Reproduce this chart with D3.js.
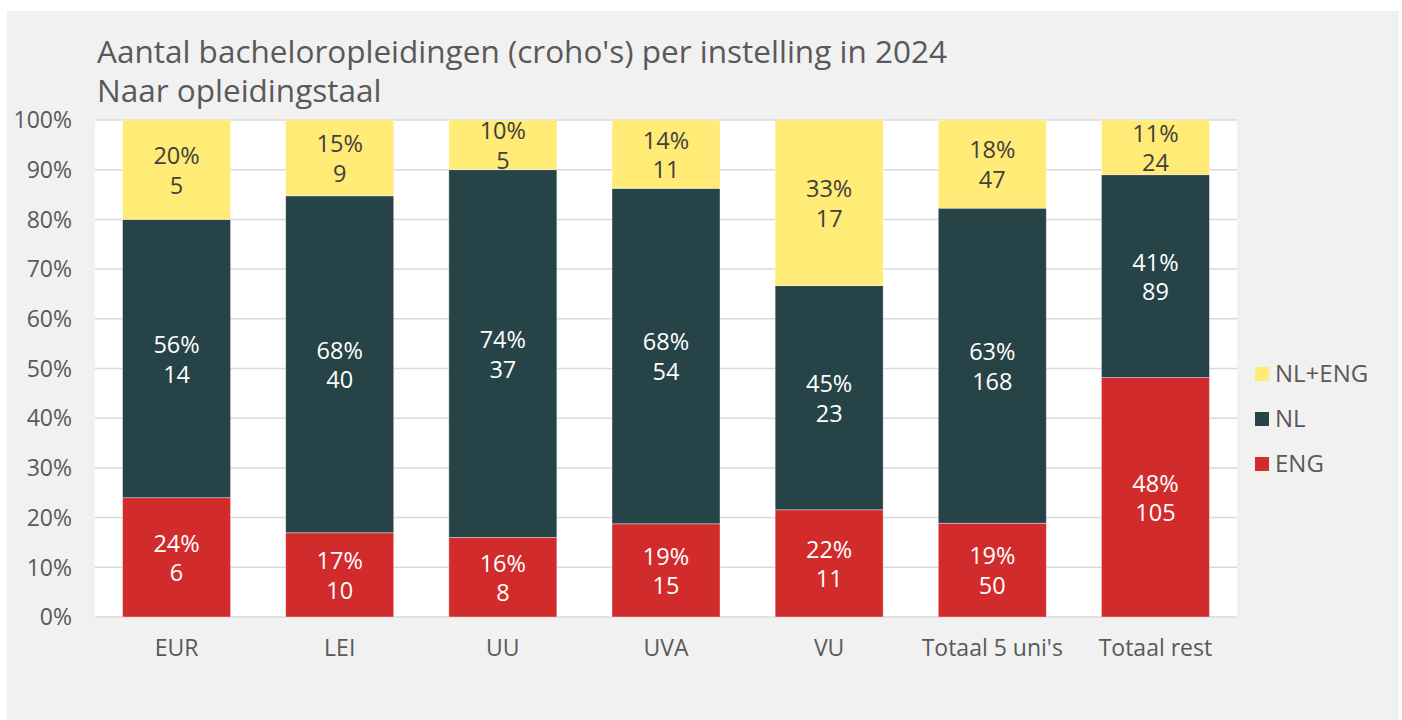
<!DOCTYPE html>
<html>
<head>
<meta charset="utf-8">
<script src="https://cdn.jsdelivr.net/npm/d3@7"></script>
<style>
  body { margin: 0; background: #fff; }
  svg { display: block; font-family: "Open Sans", Lato, sans-serif; }
</style>
</head>
<body>
<svg id="chart" width="1402" height="720"></svg>
<script>
// data
var categories = ["EUR", "LEI", "UU", "UVA", "VU", "Totaal 5 uni's", "Totaal rest"];
var eng   = [6, 10, 8, 15, 11, 50, 105];
var nl    = [14, 40, 37, 54, 23, 168, 89];
var nlEng = [5, 9, 5, 11, 17, 47, 24];
var yTicks = [0, 0.1, 0.2, 0.3, 0.4, 0.5, 0.6, 0.7, 0.8, 0.9, 1];

var series = [
  {key: "ENG", vals: eng, color: "#d22b2b", text: "#ffffff"},
  {key: "NL", vals: nl, color: "#264348", text: "#ffffff"},
  {key: "NL+ENG", vals: nlEng, color: "#ffeb75", text: "#404040"}
];

var svg = d3.select("#chart");

// gray panel
svg.append("rect").attr("x", 7).attr("y", 11).attr("width", 1392).attr("height", 709).attr("fill", "#f1f1f1");

var plotL = 95, plotR = 1237, plotT = 120, plotB = 617;
svg.append("rect").attr("x", plotL).attr("y", plotT).attr("width", plotR - plotL).attr("height", plotB - plotT).attr("fill", "#fff");

var x = d3.scaleBand().domain(categories).range([plotL, plotR]).paddingInner(0.338).paddingOuter(0.169);
var y = d3.scaleLinear().domain([0, 1]).range([plotB, plotT]);

// gridlines
svg.append("g").selectAll("line").data(yTicks).enter().append("line")
  .attr("x1", plotL).attr("x2", plotR)
  .attr("y1", d => y(d)).attr("y2", d => y(d))
  .attr("stroke", "#d9d9d9").attr("stroke-width", 1.5);

// y axis labels
svg.append("g").selectAll("text").data(yTicks).enter().append("text")
  .attr("x", 72).attr("y", d => y(d)).attr("dy", "0.36em")
  .attr("text-anchor", "end").attr("fill", "#595959").attr("font-size", 23)
  .text(d => Math.round(d * 100) + "%");

// stacked shares
var rows = categories.map(function(c, i) {
  var total = eng[i] + nl[i] + nlEng[i];
  var acc = 0;
  return series.map(function(s) {
    var v = s.vals[i];
    var seg = {cat: c, s: s, v: v, p: v / total, y0: acc, y1: acc + v / total};
    acc += v / total;
    return seg;
  });
});
var segs = rows.flat();

svg.append("g").selectAll("rect").data(segs).enter().append("rect")
  .attr("x", d => x(d.cat)).attr("width", x.bandwidth())
  .attr("y", d => y(d.y1)).attr("height", d => y(d.y0) - y(d.y1))
  .attr("fill", d => d.s.color)
  .attr("stroke", "#ffffff").attr("stroke-opacity", 0.5).attr("stroke-width", 0.75);

var lbl = svg.append("g").selectAll("text").data(segs).enter().append("text")
  .attr("text-anchor", "middle").attr("font-size", 23.5)
  .attr("fill", d => d.s.text)
  .attr("x", d => x(d.cat) + x.bandwidth() / 2)
  .attr("y", d => (y(d.y0) + y(d.y1)) / 2);
lbl.append("tspan").attr("x", d => x(d.cat) + x.bandwidth() / 2).attr("dy", "-0.24em")
  .text(d => Math.round(d.p * 100) + "%");
lbl.append("tspan").attr("x", d => x(d.cat) + x.bandwidth() / 2).attr("dy", "1.26em")
  .text(d => d.v);

// x labels
svg.append("g").selectAll("text").data(categories).enter().append("text")
  .attr("x", d => x(d) + x.bandwidth() / 2).attr("y", 656)
  .attr("text-anchor", "middle").attr("fill", "#595959").attr("font-size", 23)
  .text(d => d);

// title
var title = svg.append("text").attr("x", 97).attr("y", 63).attr("fill", "#595959").attr("font-size", 31.5);
title.append("tspan").attr("x", 97).text("Aantal bacheloropleidingen (croho's) per instelling in 2024");
title.append("tspan").attr("x", 97).attr("dy", 39).text("Naar opleidingstaal");

// legend
var legendItems = series.slice().reverse();
var lg = svg.append("g").selectAll("g").data(legendItems).enter().append("g")
  .attr("transform", (d, i) => "translate(1255," + (367 + i * 45) + ")");
lg.append("rect").attr("width", 14).attr("height", 14).attr("fill", d => d.color);
lg.append("text").attr("x", 20).attr("y", 14.5).attr("fill", "#595959").attr("font-size", 24).text(d => d.key);
</script>
</body>
</html>
